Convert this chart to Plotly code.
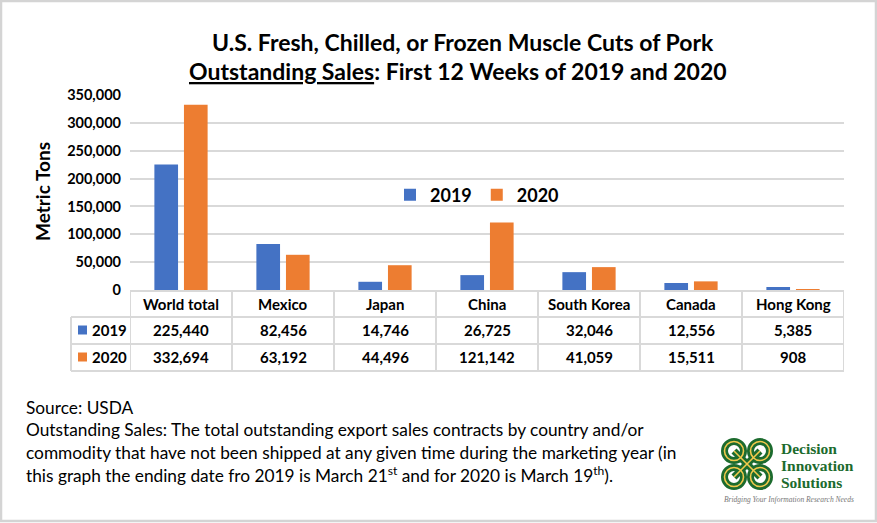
import plotly.graph_objects as go

W, H = 877, 523

categories = ["World total", "Mexico", "Japan", "China", "South Korea", "Canada", "Hong Kong"]
series_names = ["2019", "2020"]
values_2019 = [225440, 82456, 14746, 26725, 32046, 12556, 5385]
values_2020 = [332694, 63192, 44496, 121142, 41059, 15511, 908]
colors = ["#4472C4", "#ED7D31"]
y_ticks = [0, 50000, 100000, 150000, 200000, 250000, 300000, 350000]

title_line1 = "U.S. Fresh, Chilled, or Frozen Muscle Cuts of Pork"
title_line2 = "<u>Outstanding Sales</u>: First 12 Weeks of 2019 and 2020"
y_title = "Metric Tons"
foot_lines = [
    "Source: USDA",
    "Outstanding Sales: The total outstanding export sales contracts by country and/or",
    "commodity that have not been shipped at any given time during the marketing year (in",
    "this graph the ending date fro 2019 is March 21<sup>st</sup> and for 2020 is March 19<sup>th</sup>).",
]

FONT = "Lato"
GRID = "#d9d9d9"


def X(px):
    return px / W


def Y(py):
    return 1 - py / H


fig = go.Figure()
for name, vals, col in zip(series_names, [values_2019, values_2020], colors):
    fig.add_trace(go.Bar(x=categories, y=vals, name=name, marker_color=col,
                         marker_line_width=0))

annotations = []
shapes = []

# Title
annotations.append(dict(text="<b>" + title_line1 + "</b>", x=X(463), y=Y(42), xref="paper", yref="paper",
                        showarrow=False, xanchor="center", yanchor="middle",
                        font=dict(family=FONT, size=23, color="black")))
annotations.append(dict(text="<b>" + title_line2 + "</b>", x=X(458), y=Y(71), xref="paper", yref="paper",
                        showarrow=False, xanchor="center", yanchor="middle",
                        font=dict(family=FONT, size=23, color="black")))
# Y axis title
annotations.append(dict(text="<b>" + y_title + "</b>", x=X(42), y=Y(192), xref="paper", yref="paper",
                        showarrow=False, textangle=-90, xanchor="center", yanchor="middle",
                        font=dict(family=FONT, size=19, color="black")))

# Data table
row_y = [304, 330, 357]
tfont = dict(family=FONT, size=15, color="black")
for i, c in enumerate(categories):
    annotations.append(dict(text="<b>" + c + "</b>", x=c, y=Y(row_y[0]), xref="x", yref="paper",
                            showarrow=False, xanchor="center", yanchor="middle", font=tfont))
    for r, vals in enumerate([values_2019, values_2020]):
        annotations.append(dict(text="<b>" + f"{vals[i]:,}" + "</b>", x=c, y=Y(row_y[r + 1]),
                                xref="x", yref="paper", showarrow=False, xanchor="center",
                                yanchor="middle", font=tfont))
for r, (name, col) in enumerate(zip(series_names, colors)):
    yc = row_y[r + 1]
    shapes.append(dict(type="rect", xref="paper", yref="paper", x0=X(78), x1=X(87),
                       y0=Y(yc - 4.5), y1=Y(yc + 4.5), fillcolor=col, line_width=0))
    annotations.append(dict(text="<b>" + name + "</b>", x=X(90), y=Y(yc), xref="paper", yref="paper",
                            showarrow=False, xanchor="left", yanchor="middle", font=tfont))

lw = 2
for py in [317, 344, 371]:
    shapes.append(dict(type="line", xref="paper", yref="paper", x0=X(71), x1=X(844),
                       y0=Y(py), y1=Y(py), line=dict(color=GRID, width=lw)))
for k in range(len(categories) + 1):
    shapes.append(dict(type="line", xref="x", yref="paper", x0=k - 0.5, x1=k - 0.5,
                       y0=Y(291), y1=Y(371), line=dict(color=GRID, width=lw)))
shapes.append(dict(type="line", xref="paper", yref="paper", x0=X(71), x1=X(71),
                   y0=Y(317), y1=Y(371), line=dict(color=GRID, width=lw)))

# Footnote
for k, line in enumerate(foot_lines):
    annotations.append(dict(text=line, x=X(24), y=Y(407 + 22.5 * k), xref="paper", yref="paper",
                            showarrow=False, xanchor="left", yanchor="middle",
                            font=dict(family=FONT, size=17.3, color="black")))

# Logo text
GREEN = "#1c6b2e"
YELLOW = "#f2c94c"
for k, word in enumerate(["Decision", "Innovation", "Solutions"]):
    annotations.append(dict(text="<b>" + word + "</b>", x=X(779), y=Y(448 + 17 * k), xref="paper",
                            yref="paper", showarrow=False, xanchor="left", yanchor="middle",
                            font=dict(family="Liberation Serif", size=15.5, color=GREEN)))
annotations.append(dict(text="<i>Bridging Your Information Research Needs</i>", x=X(722), y=Y(499),
                        xref="paper", yref="paper", showarrow=False, xanchor="left", yanchor="middle",
                        font=dict(family="Liberation Serif", size=7.5, color="#777777")))

# Logo knot (approximation)
cx, cy, off, rad = 747, 464, 13, 9.5
centers = [(cx - off, cy - off), (cx + off, cy - off), (cx - off, cy + off), (cx + off, cy + off)]
for colr, wid in [(GREEN, 7), (YELLOW, 1.6)]:
    for (ax, ay) in centers:
        shapes.append(dict(type="circle", xref="paper", yref="paper",
                           x0=X(ax - rad), x1=X(ax + rad), y0=Y(ay + rad), y1=Y(ay - rad),
                           line=dict(color=colr, width=wid)))
    for (a, b) in [(0, 3), (1, 2)]:
        (x0, y0), (x1, y1) = centers[a], centers[b]
        shapes.append(dict(type="line", xref="paper", yref="paper", x0=X(x0), x1=X(x1),
                           y0=Y(y0), y1=Y(y1), line=dict(color=colr, width=wid)))

# Outer frame
shapes.append(dict(type="rect", xref="paper", yref="paper", x0=X(1), x1=X(876), y0=Y(521), y1=Y(1),
                   line=dict(color="#d4d4d4", width=2.5), fillcolor="rgba(0,0,0,0)"))

fig.update_layout(
    width=W, height=H,
    margin=dict(l=0, r=0, t=0, b=0, autoexpand=False),
    paper_bgcolor="white", plot_bgcolor="white",
    barmode="group", bargap=0.42, bargroupgap=0.2,
    font=dict(family=FONT, color="black"),
    showlegend=True,
    legend=dict(orientation="h", x=X(390), y=Y(195), xanchor="left", yanchor="middle",
                font=dict(family=FONT, size=18, color="black", weight="bold"),
                bgcolor="rgba(0,0,0,0)", itemwidth=30, traceorder="normal"),
    xaxis=dict(domain=[X(130), X(844)], range=[-0.5, 6.5], showticklabels=False,
               showline=True, linecolor=GRID, linewidth=2, showgrid=False, ticks="",
               fixedrange=True, automargin=False),
    yaxis=dict(domain=[Y(290), Y(95)], range=[0, 350000], tickvals=y_ticks, tickformat=",",
               showgrid=True, gridcolor=GRID, gridwidth=1.5, zeroline=False, showline=False,
               ticks="", ticklabelstandoff=8, fixedrange=True, automargin=False,
               tickfont=dict(family=FONT, size=14.5, color="black", weight="bold")),
    annotations=annotations,
    shapes=shapes,
)

post = "document.body.style.margin='0';document.body.style.overflow='hidden';"
fig.write_html("out.html", config={"displayModeBar": False}, post_script=post)
